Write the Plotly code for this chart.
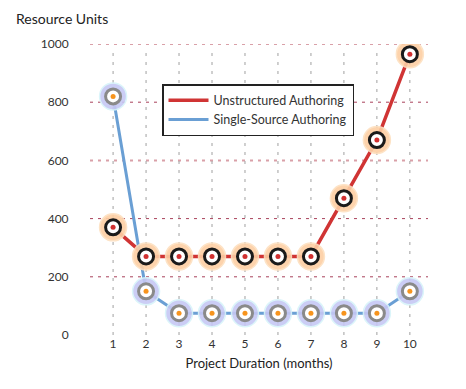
import plotly.graph_objects as go

months = [1, 2, 3, 4, 5, 6, 7, 8, 9, 10]
unstructured = [370, 270, 270, 270, 270, 270, 270, 470, 670, 965]
single_source = [820, 150, 75, 75, 75, 75, 75, 75, 75, 150]
y_ticks = [0, 200, 400, 600, 800, 1000]
series_names = ["Unstructured Authoring", "Single-Source Authoring"]

FONT = "Lato"
OFF = 8  # page body margin
L, R, T, B = 90 - OFF, 38 + OFF, 44 - OFF, 54 + OFF
PW, PH = 466 - L - R, 389 - T - B

fig = go.Figure()

for v in [200, 400, 800]:
    fig.add_shape(type="line", xref="paper", yref="y", x0=0, x1=1, y0=v, y1=v,
                  line=dict(color="#a8405a", width=1, dash="3px,5px"), layer="below")
for v in [600, 1000]:
    fig.add_shape(type="line", xref="paper", yref="y", x0=0, x1=1, y0=v, y1=v,
                  line=dict(color="#d9a0a8", width=2, dash="3px,5px"), layer="below")
for m in months:
    fig.add_shape(type="line", xref="x", yref="paper", x0=m, x1=m, y0=0, y1=0.97,
                  line=dict(color="#a0a0a0", width=1, dash="3px,6px"), layer="below")

fig.add_trace(go.Scatter(x=months, y=unstructured, mode="lines", name=series_names[0],
                         line=dict(color="#d03434", width=3.5)))
fig.add_trace(go.Scatter(x=months, y=single_source, mode="lines", name=series_names[1],
                         line=dict(color="#6a9fd4", width=3)))

def markers(y, halo, halo_edge, ring, dot):
    fig.add_trace(go.Scatter(x=months, y=y, mode="markers", showlegend=False, hoverinfo="skip",
                             marker=dict(size=27, color=halo, opacity=0.9,
                                         line=dict(color=halo_edge, width=1.5))))
    fig.add_trace(go.Scatter(x=months, y=y, mode="markers", showlegend=False, hoverinfo="skip",
                             marker=dict(size=15, color="white", line=dict(color=ring, width=3))))
    fig.add_trace(go.Scatter(x=months, y=y, mode="markers", showlegend=False,
                             marker=dict(size=5, color=dot)))

markers(unstructured, "#fdcfa4", "#fde0c0", "#1a1a1a", "#d03030")
markers(single_source, "#c6c8f4", "#d8f4fa", "#8a8a8a", "#f7941d")

fig.update_layout(
    width=466, height=389,
    margin=dict(l=L, r=R, t=T, b=B, autoexpand=False),
    paper_bgcolor="white", plot_bgcolor="white",
    font=dict(family=FONT, size=12, color="#333333"),
    xaxis=dict(range=[0.3, 10.55], tickvals=months, showgrid=False, zeroline=False,
               showline=False, ticks="", 
               title=dict(text="Project Duration (months)", standoff=8,
                          font=dict(family=FONT, size=13, color="#222222")),
               tickfont=dict(size=12, color="#333333")),
    yaxis=dict(range=[0, 1000], tickvals=y_ticks, showgrid=False, zeroline=False,
               showline=False, ticks="outside", ticklen=18, tickcolor="rgba(0,0,0,0)",
               tickfont=dict(size=12, color="#333333")),
    showlegend=True,
    legend=dict(
        x=(162 - 90) / PW, y=1 - (84 - 44) / PH, xanchor="left", yanchor="top",
        bordercolor="#222222", borderwidth=1.5, bgcolor="white",
        font=dict(size=12.5, color="#333333"), itemwidth=40, tracegroupgap=0,
    ),
)
fig.add_annotation(text="Resource Units", xref="paper", yref="paper",
                   x=-(90 - 14) / PW, y=1 + (44 - 18) / PH, xanchor="left", yanchor="middle",
                   showarrow=False, font=dict(family=FONT, size=14, color="#222222"))

fig.write_html("out.html")
